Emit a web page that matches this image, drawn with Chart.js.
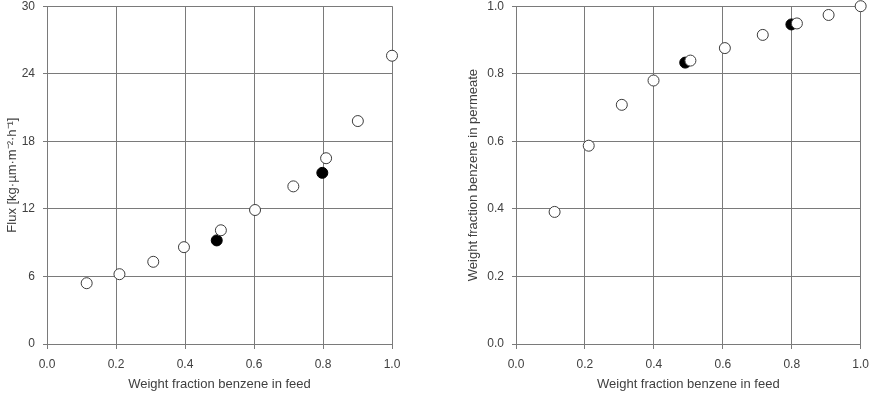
<!DOCTYPE html>
<html><head><meta charset="utf-8">
<script src="https://cdn.jsdelivr.net/npm/chart.js@4/dist/chart.umd.min.js"></script>
<style>
html,body{margin:0;padding:0;background:#fff;overflow:hidden;}
#wrap{position:relative;width:870px;height:394px;overflow:hidden;}
.c{position:absolute;top:-9px;height:404px;}
</style></head><body>
<div id="wrap">
<div class="c" style="left:0;width:435px"><canvas id="c1"></canvas></div>
<div class="c" style="left:435px;width:442px"><canvas id="c2"></canvas></div>
</div>
<script>
// Feed composition (weight fraction benzene)
const feedOpen   = [0.115, 0.21, 0.308, 0.397, 0.504, 0.603, 0.714, 0.809, 0.901, 1.0];
const feedFilled = [0.492, 0.798];
// Flux [kg·µm·m-2·h-1]
const fluxOpen   = [5.4, 6.2, 7.3, 8.6, 10.1, 11.9, 14.0, 16.5, 19.8, 25.6];
const fluxFilled = [9.2, 15.2];
// Permeate composition
const feedOpenR   = [0.112, 0.211, 0.307, 0.399, 0.506, 0.606, 0.716, 0.815, 0.907, 1.0];
const feedFilledR = [0.491, 0.799];
const permOpen    = [0.391, 0.587, 0.708, 0.780, 0.839, 0.876, 0.915, 0.949, 0.974, 1.0];
const permFilled  = [0.833, 0.946];

const xTicks = [0, 0.2, 0.4, 0.6, 0.8, 1.0];
const fluxTicks = [0, 6, 12, 18, 24, 30];
const permTicks = [0, 0.2, 0.4, 0.6, 0.8, 1.0];

const FONT = "'Liberation Sans', Arial, sans-serif";
const GRID = '#7a7a7a';
const TXT = '#404040';

function pts(xs, ys){ return xs.map((x,i)=>({x:x, y:ys[i]})); }

function makeChart(id, openPts, filledPts, yTicks, yMax, yTitle, yDec, padLeft, yWidth, padRight){
  new Chart(document.getElementById(id), {
    type: 'scatter',
    data: { datasets: [
      { data: openPts, order: 0, clip: false, pointRadius: 5.5, pointHoverRadius: 5.5,
        pointBackgroundColor: '#ffffff', pointBorderColor: '#3c3c3c', pointBorderWidth: 1 },
      { data: filledPts, order: 1, clip: false, pointRadius: 5.5, pointHoverRadius: 5.5,
        pointBackgroundColor: '#000000', pointBorderColor: '#000000', pointBorderWidth: 1 }
    ]},
    options: {
      responsive: true, maintainAspectRatio: false, animation: false,
      layout: { padding: { left: padLeft, right: padRight, top: 0, bottom: 0 } },
      plugins: { legend: { display: false }, tooltip: { enabled: false } },
      scales: {
        x: {
          type: 'linear', min: 0, max: 1,
          afterBuildTicks: s => { s.ticks = xTicks.map(v => ({value: v})); },
          afterFit: s => { s.height = 51; },
          grid: { color: GRID, lineWidth: 1, tickLength: 5, drawTicks: true, tickColor: GRID },
          border: { display: true, color: GRID, width: 1 },
          ticks: { color: TXT, font: { family: FONT, size: 12 }, padding: 8, maxRotation: 0,
                   callback: v => v.toFixed(1) },
          title: { display: true, text: 'Weight fraction benzene in feed', color: TXT,
                   font: { family: FONT, size: 13 }, padding: { top: 2, bottom: 3 } }
        },
        y: {
          type: 'linear', min: 0, max: yMax,
          afterBuildTicks: s => { s.ticks = yTicks.map(v => ({value: v})); },
          afterFit: s => { s.width = yWidth; },
          grid: { color: GRID, lineWidth: 1, tickLength: 4, drawTicks: true, tickColor: GRID },
          border: { display: true, color: GRID, width: 1 },
          ticks: { color: TXT, font: { family: FONT, size: 12 }, padding: 8,
                   callback: v => v.toFixed(yDec) },
          title: { display: true, text: yTitle, color: TXT,
                   font: { family: FONT, size: 13 }, padding: { top: 5, bottom: 2 } }
        }
      }
    }
  });
}

makeChart('c1', pts(feedOpen, fluxOpen), pts(feedFilled, fluxFilled), fluxTicks, 30,
  'Flux [kg·µm·m⁻²·h⁻¹]', 0, 0, 47, 43);
makeChart('c2', pts(feedOpenR, permOpen), pts(feedFilledR, permFilled), permTicks, 1,
  'Weight fraction benzene in permeate', 1, 26, 55, 5);
</script>
</body></html>
